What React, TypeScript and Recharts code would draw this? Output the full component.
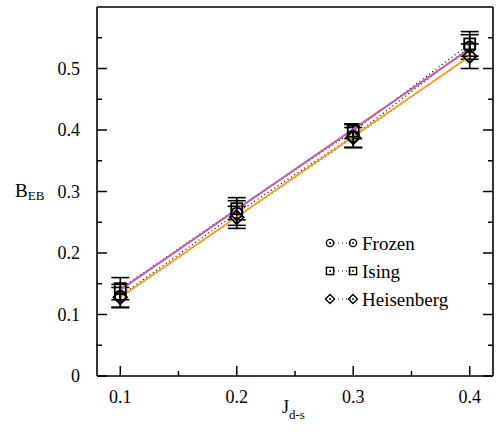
import React from 'react';
import { ComposedChart, Line, XAxis, YAxis, ErrorBar, Legend, Label } from 'recharts';

const jValues = [0.1, 0.2, 0.3, 0.4];
const frozenB = [0.13, 0.265, 0.39, 0.535];
const frozenErr = [0.019, 0.02, 0.019, 0.02];
const isingB = [0.142, 0.272, 0.398, 0.54];
const isingErr = [0.018, 0.018, 0.012, 0.02];
const heisB = [0.128, 0.258, 0.388, 0.52];
const heisErr = [0.016, 0.018, 0.016, 0.02];
const fitJ = [0.1, 0.4];
const fitPink = [0.14, 0.532];
const fitOrange = [0.128, 0.52];
const xTicks = [0.1, 0.15, 0.2, 0.25, 0.3, 0.35, 0.4];
const yTicks = [0, 0.05, 0.1, 0.15, 0.2, 0.25, 0.3, 0.35, 0.4, 0.45, 0.5, 0.55];
const seriesNames = ['Frozen', 'Ising', 'Heisenberg'];
const seriesKinds = ['circle', 'square', 'diamond'];

const FONT = '"Liberation Serif", "Times New Roman", serif';

const build = (ys: number[], errs: number[]) => jValues.map((x, i) => ({ x, y: ys[i], err: errs[i] }));
const frozenData = build(frozenB, frozenErr);
const isingData = build(isingB, isingErr);
const heisData = build(heisB, heisErr);
const pinkData = fitJ.map((x, i) => ({ x, y: fitPink[i] }));
const orangeData = fitJ.map((x, i) => ({ x, y: fitOrange[i] }));

const isMajor = (v: number) => Math.abs(v * 10 - Math.round(v * 10)) < 1e-6;
const fmt = (v: number) => (v === 0 ? '0' : v.toFixed(1));

function Marker({ kind, cx, cy, size, sw }: any) {
  if (cx == null || cy == null) return null;
  let shape: any;
  if (kind === 'circle') {
    shape = <circle cx={cx} cy={cy} r={size} fill="none" stroke="#000" strokeWidth={sw} />;
  } else if (kind === 'square') {
    shape = <rect x={cx - size} y={cy - size} width={size * 2} height={size * 2} fill="none" stroke="#000" strokeWidth={sw} />;
  } else {
    const d = size * 1.25;
    shape = (
      <polygon
        points={`${cx},${cy - d} ${cx + d},${cy} ${cx},${cy + d} ${cx - d},${cy}`}
        fill="none"
        stroke="#000"
        strokeWidth={sw}
      />
    );
  }
  return (
    <g>
      {shape}
      <circle cx={cx} cy={cy} r={0.9} fill="#000" />
    </g>
  );
}

const BottomTick = (p: any) => {
  const { x, y, payload } = p;
  const v = payload.value;
  const major = isMajor(v);
  return (
    <g>
      <line x1={x} x2={x} y1={y} y2={y - (major ? 10 : 5)} stroke="#000" strokeWidth={1.5} />
      {major && (
        <text x={x} y={y + 27} textAnchor="middle" fontSize={18} fontFamily={FONT} fill="#000">
          {fmt(v)}
        </text>
      )}
    </g>
  );
};

const TopTick = (p: any) => {
  const { x, y, payload } = p;
  const major = isMajor(payload.value);
  return <line x1={x} x2={x} y1={y} y2={y + (major ? 10 : 5)} stroke="#000" strokeWidth={1.5} />;
};

const LeftTick = (p: any) => {
  const { x, y, payload } = p;
  const v = payload.value;
  const major = isMajor(v);
  return (
    <g>
      <line x1={x} x2={x + (major ? 10 : 5)} y1={y} y2={y} stroke="#000" strokeWidth={1.5} />
      {major && (
        <text x={x - 17} y={y + 6} textAnchor="end" fontSize={18} fontFamily={FONT} fill="#000">
          {fmt(v)}
        </text>
      )}
    </g>
  );
};

const RightTick = (p: any) => {
  const { x, y, payload } = p;
  const major = isMajor(payload.value);
  return <line x1={x} x2={x - (major ? 10 : 5)} y1={y} y2={y} stroke="#000" strokeWidth={1.5} />;
};

const LegendContent = () => (
  <div style={{ fontFamily: FONT, fontSize: 19, color: '#000', lineHeight: 1 }}>
    {seriesNames.map((name, i) => (
      <div key={name} style={{ display: 'flex', alignItems: 'center', height: 28 }}>
        <svg width={40} height={28} style={{ display: 'block' }}>
          <line x1={8} x2={31} y1={14} y2={14} stroke="#000" strokeWidth={1} strokeDasharray="1 3" />
          <Marker kind={seriesKinds[i]} cx={8} cy={14} size={3.6} sw={1.4} />
          <Marker kind={seriesKinds[i]} cx={31} cy={14} size={3.6} sw={1.4} />
        </svg>
        <span style={{ fontFamily: FONT }}>{name}</span>
      </div>
    ))}
  </div>
);

const makeDot = (kind: string, prefix: string) => (p: any) => (
  <Marker key={`${prefix}-${p.index}`} kind={kind} cx={p.cx} cy={p.cy} size={5.5} sw={1.8} />
);

const axisLineStyle = { stroke: '#000', strokeWidth: 1.6 };

export default function App() {
  return (
    <div style={{ position: 'absolute', left: 0, top: 0, background: '#fff' }}>
      <ComposedChart width={497} height={438} margin={{ top: 6, right: 3, bottom: 0, left: 0 }}>
        <XAxis
          xAxisId="b"
          dataKey="x"
          type="number"
          domain={[0.08, 0.42]}
          ticks={xTicks}
          interval={0}
          height={62}
          tickSize={0}
          tickMargin={0}
          tick={BottomTick}
          tickLine={false}
          axisLine={axisLineStyle}
          allowDataOverflow
        >
          <Label
            content={() => (
              <text x={282} y={413} fontFamily={FONT} fontSize={18} fill="#000">
                J
                <tspan fontSize={13} dy={6}>d-s</tspan>
              </text>
            )}
          />
        </XAxis>
        <XAxis
          xAxisId="t"
          orientation="top"
          type="number"
          domain={[0.08, 0.42]}
          ticks={xTicks}
          interval={0}
          height={1}
          tickSize={0}
          tickMargin={0}
          tick={TopTick}
          tickLine={false}
          axisLine={axisLineStyle}
          allowDataOverflow
        />
        <YAxis
          yAxisId="l"
          dataKey="y"
          type="number"
          domain={[0, 0.6]}
          ticks={yTicks}
          interval={0}
          width={97}
          tickSize={0}
          tickMargin={0}
          tick={LeftTick}
          tickLine={false}
          axisLine={axisLineStyle}
          allowDataOverflow
        >
          <Label
            content={() => (
              <text x={15} y={197} fontFamily={FONT} fontSize={19} fill="#000">
                B
                <tspan fontSize={13} dy={3}>EB</tspan>
              </text>
            )}
          />
        </YAxis>
        <YAxis
          yAxisId="r"
          orientation="right"
          type="number"
          domain={[0, 0.6]}
          ticks={yTicks}
          interval={0}
          width={1}
          tickSize={0}
          tickMargin={0}
          tick={RightTick}
          tickLine={false}
          axisLine={axisLineStyle}
          allowDataOverflow
        />
        <Legend
          content={LegendContent}
          layout="vertical"
          align="center"
          verticalAlign="middle"
          wrapperStyle={{ position: 'absolute', left: 322, top: 229, width: 'auto' }}
        />
        <Line
          xAxisId="b"
          yAxisId="l"
          data={frozenData}
          dataKey="y"
          name="Frozen"
          type="linear"
          stroke="#000"
          strokeWidth={1.2}
          strokeDasharray="1 3"
          dot={makeDot('circle', 'f')}
          activeDot={false}
          isAnimationActive={false}
        >
          <ErrorBar dataKey="err" direction="y" width={9} stroke="#000" strokeWidth={1.6} isAnimationActive={false} />
        </Line>
        <Line
          xAxisId="b"
          yAxisId="l"
          data={isingData}
          dataKey="y"
          name="Ising"
          type="linear"
          stroke="#000"
          strokeWidth={1.2}
          strokeDasharray="1 3"
          dot={makeDot('square', 'i')}
          activeDot={false}
          isAnimationActive={false}
        >
          <ErrorBar dataKey="err" direction="y" width={9} stroke="#000" strokeWidth={1.6} isAnimationActive={false} />
        </Line>
        <Line
          xAxisId="b"
          yAxisId="l"
          data={heisData}
          dataKey="y"
          name="Heisenberg"
          type="linear"
          stroke="#000"
          strokeWidth={1.2}
          strokeDasharray="1 3"
          dot={makeDot('diamond', 'h')}
          activeDot={false}
          isAnimationActive={false}
        >
          <ErrorBar dataKey="err" direction="y" width={9} stroke="#000" strokeWidth={1.6} isAnimationActive={false} />
        </Line>
        <Line
          xAxisId="b"
          yAxisId="l"
          data={pinkData}
          dataKey="y"
          type="linear"
          stroke="#c45fa6"
          strokeWidth={2}
          dot={false}
          activeDot={false}
          legendType="none"
          isAnimationActive={false}
        />
        <Line
          xAxisId="b"
          yAxisId="l"
          data={orangeData}
          dataKey="y"
          type="linear"
          stroke="#f4a325"
          strokeWidth={2}
          dot={false}
          activeDot={false}
          legendType="none"
          isAnimationActive={false}
        />
      </ComposedChart>
    </div>
  );
}
